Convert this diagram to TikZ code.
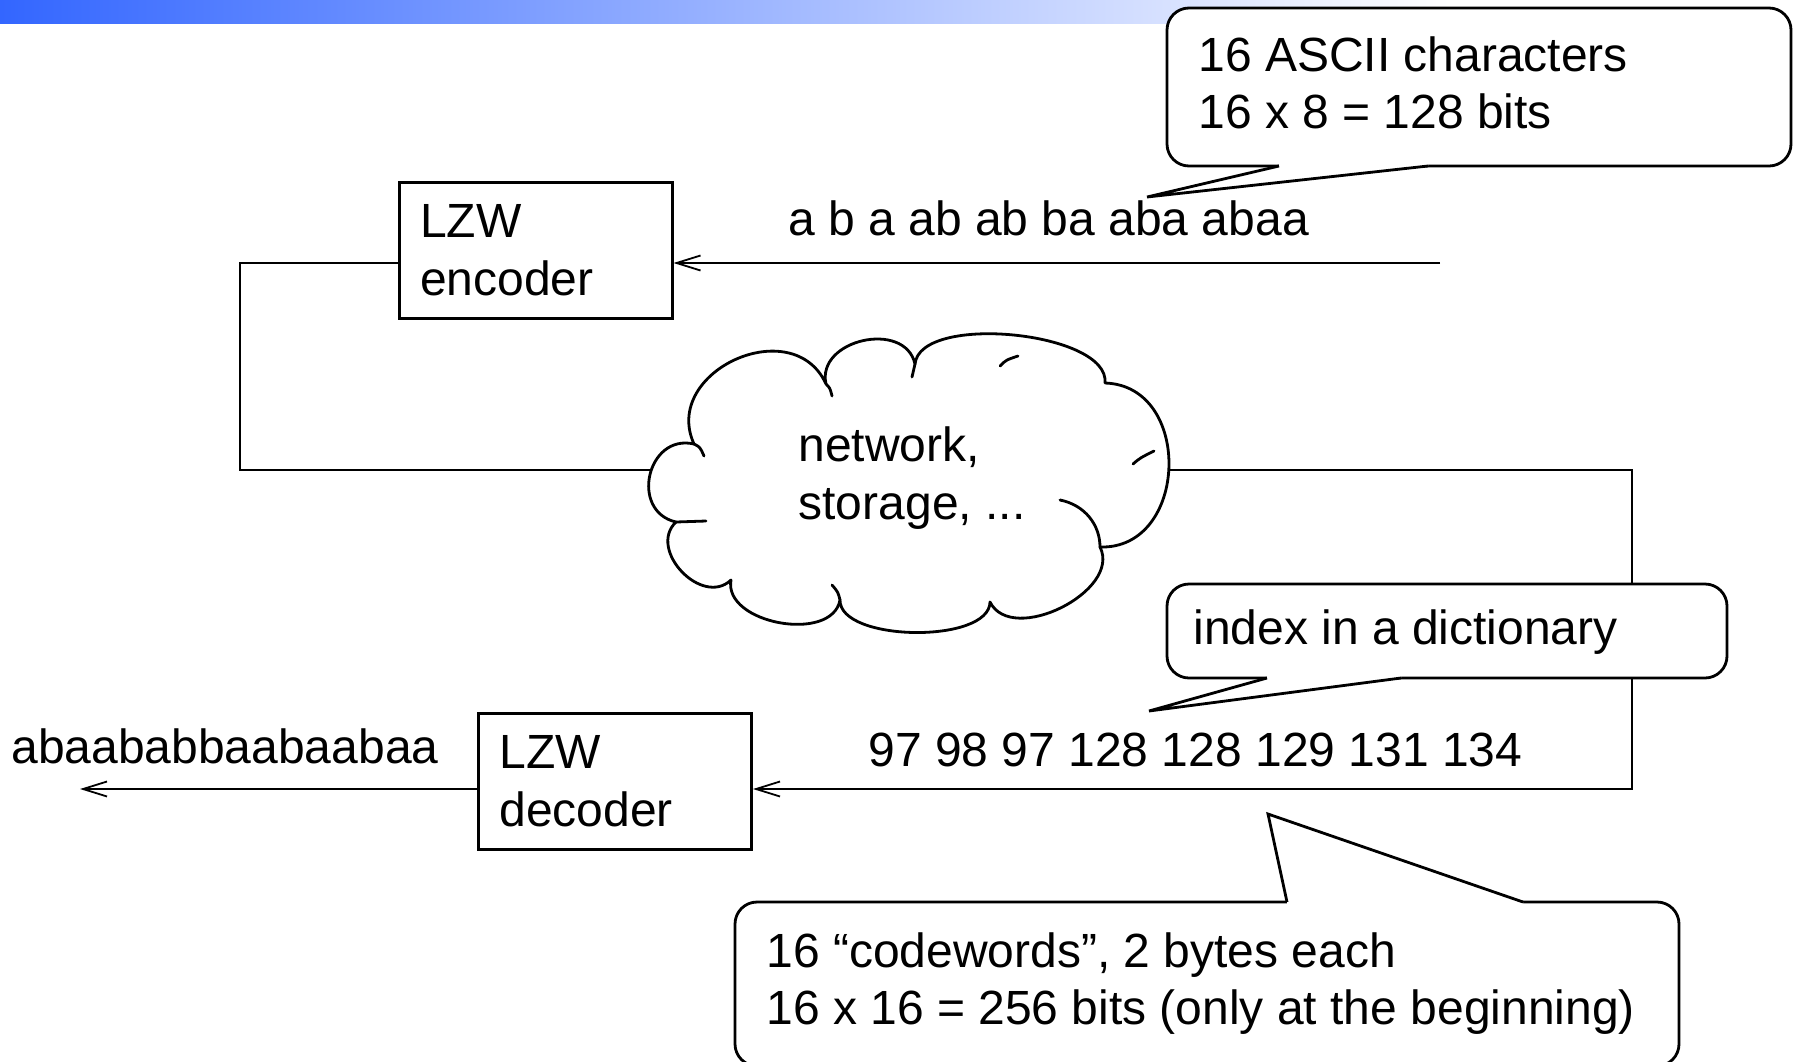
\documentclass[tikz,border=0pt]{standalone}
\usepackage{fontspec}
\setmainfont{Liberation Sans}
\usetikzlibrary{arrows.meta,calc}
\definecolor{gradblue}{RGB}{51,102,255}
\begin{document}
\begin{tikzpicture}[x=0.5pt,y=-0.5pt,
  every node/.style={font=\fontsize{24pt}{28.8pt}\selectfont, inner sep=0pt},
  blockbox/.style={draw, line width=1.5pt, minimum width=136.5pt, minimum height=68pt, align=left, text width=115.5pt},
  conn/.style={line width=0.9pt},
  arr/.style={conn, -{Straight Barb[length=12pt,width=7.5pt]}},
  balloon/.style={draw, line width=1.4pt, fill=white, rounded corners=11pt},
  tail/.style={line width=1.4pt, line join=miter},
  cloudline/.style={line width=1.4pt, line join=round, line cap=round},
  lbl/.style={anchor=base west}
]
\useasboundingbox (0,0) rectangle (1798,1061);
% top gradient bar
\shade[left color=gradblue, right color=white] (0,0) rectangle (1450,23);

% blocks
\node[blockbox] (enc) at (535.5,250) {LZW\\encoder};
\node[blockbox] (dec) at (615,781.5) {LZW\\decoder};

% cloud outline
\coordinate (cA) at (694,444);
\coordinate (cB) at (826,384);
\coordinate (cC) at (915,364);
\coordinate (cD) at (1105,383);
\coordinate (cE) at (1100,547);
\coordinate (cF) at (990,602);
\coordinate (cG) at (840,600);
\coordinate (cH) at (731,580);
\coordinate (cI) at (676,522);
\coordinate (cloudW) at (662,470);
\coordinate (cloudE) at (1155,470);

% connectors
\coordinate (srcin) at (1440,263);
\coordinate (outend) at (80,789);
\draw[arr] (srcin) -- (srcin -| enc.east);
\draw[conn] (enc.west |- srcin) -- (240,263) |- (cloudW);
\draw[arr] (cloudE) -- (1632,470) |- (dec.east |- 0,789);
\draw[arr] (dec.west |- outend) -- (outend);

% cloud drawn on top of connector ends
\draw[cloudline, fill=white]
  (cI) .. controls ($(cI)!0.6!90:(cA)$) and ($(cA)!0.6!-90:(cI)$) .. (cA)
       .. controls ($(cA)!0.55!90:(cB)$) and ($(cB)!0.55!-90:(cA)$) .. (cB)
       .. controls ($(cB)!0.5!90:(cC)$) and ($(cC)!0.5!-90:(cB)$) .. (cC)
       .. controls ($(cC)!0.27!90:(cD)$) and ($(cD)!0.27!-90:(cC)$) .. (cD)
       .. controls ($(cD)!0.54!90:(cE)$) and ($(cE)!0.54!-90:(cD)$) .. (cE)
       .. controls ($(cE)!0.4!90:(cF)$) and ($(cF)!0.4!-90:(cE)$) .. (cF)
       .. controls ($(cF)!0.28!90:(cG)$) and ($(cG)!0.28!-90:(cF)$) .. (cG)
       .. controls ($(cG)!0.4!90:(cH)$) and ($(cH)!0.4!-90:(cG)$) .. (cH)
       .. controls ($(cH)!0.5!90:(cI)$) and ($(cI)!0.5!-90:(cH)$) .. (cI) -- cycle;
% inner strokes of the cloud
\draw[cloudline] (cA) .. controls (700,447) .. (704,456);
\draw[cloudline] (cI) -- (706,521);
\draw[cloudline] (cB) .. controls (830,388) .. (832,396);
\draw[cloudline] (cC) .. controls (914,370) .. (912,377);
\draw[cloudline] (1000,366) .. controls (1006,360) .. (1018,356);
\draw[cloudline] (1133,464) .. controls (1140,458) .. (1154,451);
\draw[cloudline] (1060,500) .. controls (1085,505) and (1100,525) .. (cE);
\draw[cloudline] (cG) .. controls (838,592) .. (832,585);
\node[align=left] (cloudtxt) at (912,478) {network,\\storage, ...};

% labels on connectors
\node[lbl] (seqin) at (788,235) {a b a ab ab ba aba abaa};
\node[lbl] (codes) at (868,766) {97 98 97 128 128 129 131 134};
\node[lbl] (seqout) at (11,763) {abaababbaabaabaa};

% callout 1
\draw[balloon] (1167,8) rectangle (1791,166);
\fill[white] (1279,160) -- (1279,166) -- (1147,197) -- (1428,166) -- (1428,160) -- cycle;
\draw[tail] (1279,166) -- (1147,197) -- (1428,166);
\node[lbl] (note1) at (1198,71) {\begin{tabular}[t]{@{}l@{}}16 ASCII characters\\16 x 8 = 128 bits\end{tabular}};

% callout 2
\draw[balloon] (1167,584) rectangle (1727,678);
\fill[white] (1267,672) -- (1267,678) -- (1149,711) -- (1401,678) -- (1401,672) -- cycle;
\draw[tail] (1267,678) -- (1149,711) -- (1401,678);
\node[lbl] (note2) at (1193,644) {index in a dictionary};

% callout 3
\draw[balloon] (735,902) rectangle (1679,1066);
\fill[white] (1287,908) -- (1287,902) -- (1268,814) -- (1523,902) -- (1523,908) -- cycle;
\draw[tail] (1287,902) -- (1268,814) -- (1523,902);
\node[lbl] (note3) at (766,967) {\begin{tabular}[t]{@{}l@{}}16 “codewords”, 2 bytes each\\16 x 16 = 256 bits (only at the beginning)\end{tabular}};
\end{tikzpicture}
\end{document}
